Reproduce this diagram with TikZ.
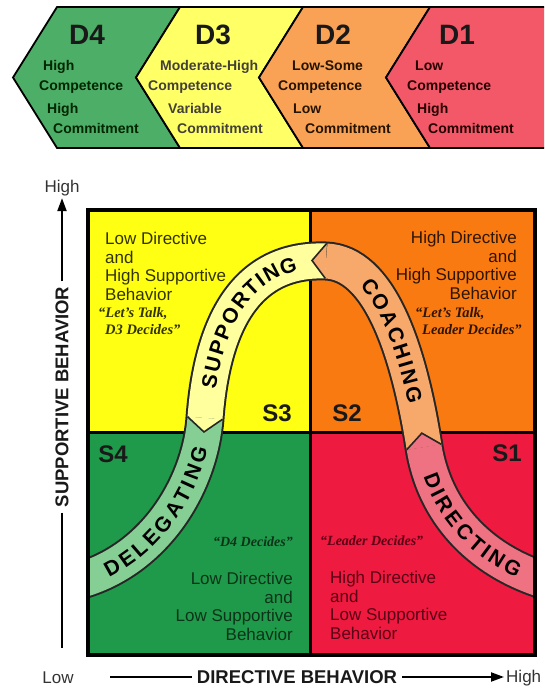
\documentclass[tikz,border=0pt]{standalone}
\usepackage{fontspec}
\setmainfont{Liberation Sans}
\newfontfamily\qserif{Liberation Serif}
\usetikzlibrary{calc,decorations.text,arrows.meta}

\definecolor{dgreen}{HTML}{4DAE68}
\definecolor{dyellow}{HTML}{FFFF66}
\definecolor{dorange}{HTML}{F9A255}
\definecolor{dred}{HTML}{F25868}
\definecolor{qyellow}{HTML}{FFFF14}
\definecolor{qorange}{HTML}{FA7A12}
\definecolor{qgreen}{HTML}{1F9A4A}
\definecolor{qred}{HTML}{EE1A40}
\definecolor{bgreen}{HTML}{86CF94}
\definecolor{byellow}{HTML}{FFFF9E}
\definecolor{bpeach}{HTML}{F7A96B}
\definecolor{bpink}{HTML}{EF7282}
\definecolor{tltext}{HTML}{333300}
\definecolor{trtext}{HTML}{2E1500}
\definecolor{bltext}{HTML}{0D3318}
\definecolor{brtext}{HTML}{5A0015}
\definecolor{axtext}{HTML}{333333}

\newcommand\bandfont{\fontsize{21}{21}\selectfont\bfseries}

\begin{document}
\begin{tikzpicture}[x=1pt,y=-1pt,
  chev/.style={draw=black, line width=1.8pt, line join=miter},
  dhead/.style={font=\fontsize{28}{28}\selectfont\bfseries, inner sep=0, text=black!90},
  dtxt/.style={font=\fontsize{14}{14}\selectfont\bfseries, anchor=base west, inner sep=0},
  quad/.style={font=\fontsize{17}{18.5}\selectfont, inner sep=0},
  quotetxt/.style={font=\qserif\fontsize{14.5}{17}\selectfont\bfseries\itshape, inner sep=0},
  slab/.style={font=\fontsize{24}{24}\selectfont\bfseries, inner sep=0, text=black!90},
  axlab/.style={font=\fontsize{18.5}{18.5}\selectfont\bfseries, inner sep=0, text=black!90},
  axend/.style={font=\fontsize{17}{17}\selectfont, inner sep=0, text=axtext},
  axline/.style={line width=2pt, black},
  bandedge/.style={line width=39pt, black!85},
  headline/.style={line width=1.6pt, black!85, line join=miter},
  bandtext/.style={decorate, decoration={text along path, text align=center, raise=-7.5pt}}
]
\path[use as bounding box, clip] (0,0) rectangle (544,688);

% ---------- top banner ----------
\path[chev, fill=dgreen] (57,7) -- (180,7) -- (136,77.5) -- (180,148) -- (57,148) -- (13,77.5) -- cycle;
\path[chev, fill=dyellow] (180,7) -- (303,7) -- (259,77.5) -- (303,148) -- (180,148) -- (136,77.5) -- cycle;
\path[chev, fill=dorange] (303,7) -- (430,7) -- (386,77.5) -- (430,148) -- (303,148) -- (259,77.5) -- cycle;
\path[chev, fill=dred] (430,7) -- (552,7) -- (552,148) -- (430,148) -- (386,77.5) -- cycle;

\node[dhead] (d4) at (87,35) {D4};
\node[dhead] (d3) at (213,35) {D3};
\node[dhead] (d2) at (333,35) {D2};
\node[dhead] (d1) at (457,35) {D1};

\begin{scope}[every node/.style={dtxt, text=black!85!green}]
\node (d4a) at (43,70) {High};
\node (d4b) at (39,90) {Competence};
\node (d4c) at (47,113) {High};
\node (d4d) at (53,133) {Commitment};
\end{scope}
\begin{scope}[every node/.style={dtxt, text=black!85!yellow}]
\node (d3a) at (160,70) {Moderate-High};
\node (d3b) at (148,90) {Competence};
\node (d3c) at (168,113) {Variable};
\node (d3d) at (177,133) {Commitment};
\end{scope}
\begin{scope}[every node/.style={dtxt, text=black!85!orange}]
\node (d2a) at (292,70) {Low-Some};
\node (d2b) at (278,90) {Competence};
\node (d2c) at (293,113) {Low};
\node (d2d) at (305,133) {Commitment};
\end{scope}
\begin{scope}[every node/.style={dtxt, text=black!85!red}]
\node (d1a) at (415,70) {Low};
\node (d1b) at (407,90) {Competence};
\node (d1c) at (417,113) {High};
\node (d1d) at (428,133) {Commitment};
\end{scope}

% ---------- quadrants ----------
\fill[qyellow] (88,210) rectangle (310,432);
\fill[qorange] (310,210) rectangle (535,432);
\fill[qgreen] (88,432) rectangle (310,655);
\fill[qred] (310,432) rectangle (535,655);
\draw[line width=3pt] (310,210) -- (310,655);
\draw[line width=3pt] (88,432) -- (535,432);

% ---------- curved band ----------
\coordinate (K0) at (78,581);
\coordinate (A1) at (155,560); \coordinate (A2) at (200,485);
\coordinate (J1) at (205,418);
\coordinate (B1) at (212,325); \coordinate (B2) at (245,258);
\coordinate (J2) at (326,261);
\coordinate (C1) at (378,263); \coordinate (C2) at (408,345);
\coordinate (J3) at (424,447);
\coordinate (D1) at (434,511); \coordinate (D2) at (478,560);
\coordinate (K4) at (546,581);

\begin{scope}
\clip (88,210) rectangle (535,655);
\draw[bandedge] (K0) .. controls (A1) and (A2) .. (J1)
   .. controls (B1) and (B2) .. (J2)
   .. controls (C1) and (C2) .. (J3)
   .. controls (D1) and (D2) .. (K4);
\draw[line width=35pt, bgreen] (K0) .. controls (A1) and (A2) .. (J1);
\draw[line width=35pt, byellow] (J1) .. controls (B1) and (B2) .. (J2);
\draw[line width=35pt, bpeach] (J2) .. controls (C1) and (C2) .. (J3);
\draw[line width=35pt, bpink] (J3) .. controls (D1) and (D2) .. (K4);
\filldraw[headline, fill=byellow] ($(J1)!17.5pt!90:(A2)$) -- ($(J1)!14pt!(A2)$) -- ($(J1)!17.5pt!-90:(A2)$);
\filldraw[headline, fill=bpeach] ($(J2)!17.5pt!90:(B2)$) -- ($(J2)!14pt!(B2)$) -- ($(J2)!17.5pt!-90:(B2)$);
\filldraw[headline, fill=bpink] ($(J3)!17.5pt!90:(C2)$) -- ($(J3)!14pt!(C2)$) -- ($(J3)!17.5pt!-90:(C2)$);
\end{scope}

\path[bandtext, decoration={text={|\bandfont|{D\kern2.6pt}{E\kern2.6pt}{L\kern2.6pt}{E\kern2.6pt}{G\kern2.6pt}{A\kern2.6pt}{T\kern2.6pt}{I\kern2.6pt}{N\kern2.6pt}G}}]
  (K0) .. controls (A1) and (A2) .. (J1);
\path[bandtext, decoration={text={|\bandfont|{S\kern2.6pt}{U\kern2.6pt}{P\kern2.6pt}{P\kern2.6pt}{O\kern2.6pt}{R\kern2.6pt}{T\kern2.6pt}{I\kern2.6pt}{N\kern2.6pt}G}}]
  (J1) .. controls (B1) and (B2) .. (J2);
\path[bandtext, decoration={text={|\bandfont|{C\kern2.6pt}{O\kern2.6pt}{A\kern2.6pt}{C\kern2.6pt}{H\kern2.6pt}{I\kern2.6pt}{N\kern2.6pt}G}}]
  (J2) .. controls (C1) and (C2) .. (J3);
\path[bandtext, decoration={text={|\bandfont|{D\kern2.6pt}{I\kern2.6pt}{R\kern2.6pt}{E\kern2.6pt}{C\kern2.6pt}{T\kern2.6pt}{I\kern2.6pt}{N\kern2.6pt}G}}]
  (J3) .. controls (D1) and (D2) .. (K4);

\draw[line width=4pt] (88,210) rectangle (535,655);

% ---------- quadrant texts ----------
\node[quad, anchor=north west, align=left, text=tltext] (tltxt) at (105,232) {Low Directive\\and\\High Supportive\\Behavior};
\node[quotetxt, anchor=north west, align=left, text=tltext] (tlq) at (98,307) {“Let’s Talk,\\\hspace{7pt}D3 Decides”};
\node[quad, anchor=north east, align=right, text=trtext] (trtxt) at (517,231) {High Directive\\and\\High Supportive\\Behavior};
\node[quotetxt, anchor=north west, align=left, text=trtext] (trq) at (415,307) {“Let’s Talk,\\\hspace{7pt}Leader Decides”};
\node[quotetxt, anchor=north east, text=bltext, font=\qserif\fontsize{14}{17}\selectfont\bfseries\itshape] (blq) at (293,537) {“D4 Decides”};
\node[quad, anchor=north east, align=right, text=bltext] (bltxt) at (293,572) {Low Directive\\and\\Low Supportive\\Behavior};
\node[quotetxt, anchor=north west, text=brtext, font=\qserif\fontsize{14}{17}\selectfont\bfseries\itshape] (brq) at (320,536) {“Leader Decides”};
\node[quad, anchor=north west, align=left, text=brtext] (brtxt) at (330,571) {High Directive\\and\\Low Supportive\\Behavior};

\node[slab] (s3) at (277,413) {S3};
\node[slab] (s2) at (347,413) {S2};
\node[slab] (s4) at (113,454) {S4};
\node[slab] (s1) at (507,453) {S1};

% ---------- axes ----------
\node[axend] (hiT) at (62,188) {High};
\node[axlab, rotate=90] (suplab) at (62,397) {SUPPORTIVE BEHAVIOR};
\coordinate (vbot) at (62,648);
\draw[axline, shorten <=5pt, shorten >=2pt, -{Triangle[length=13pt,width=9pt]}] (suplab.east) -- (suplab.east |- hiT.south);
\draw[axline, shorten <=5pt] (suplab.west) -- (vbot);

\node[axend] (loB) at (58,678) {Low};
\node[axlab] (dirlab) at (297,677) {DIRECTIVE BEHAVIOR};
\node[axend, anchor=west] (hiB) at (506,678) {High};
\coordinate (hstart) at (110,677);
\draw[axline, shorten >=5pt] (hstart) -- (dirlab.west);
\draw[axline, shorten <=5pt, shorten >=2pt, -{Triangle[length=13pt,width=9pt]}] (dirlab.east) -- (dirlab.east -| hiB.west);
\end{tikzpicture}
\end{document}
